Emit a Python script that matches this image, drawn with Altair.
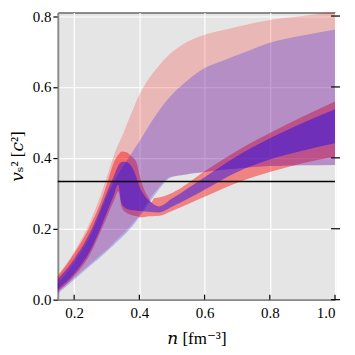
import altair as alt
import pandas as pd

# ---- wide red (pink) band ----
pink_n  = [0.15, 0.20, 0.25, 0.28, 0.30, 0.325, 0.35, 0.375, 0.40, 0.43, 0.46, 0.49, 0.52, 0.56, 0.60, 0.65, 0.70, 0.80, 0.90, 1.00]
pink_lo = [0.022, 0.061, 0.101, 0.125, 0.141, 0.163, 0.186, 0.210, 0.239, 0.282, 0.317, 0.344, 0.350, 0.356, 0.360, 0.366, 0.370, 0.377, 0.379, 0.380]
pink_hi = [0.068, 0.135, 0.222, 0.292, 0.345, 0.415, 0.468, 0.525, 0.578, 0.625, 0.660, 0.690, 0.712, 0.733, 0.747, 0.759, 0.770, 0.789, 0.800, 0.812]

# ---- narrow red band ----
red_n  = [0.15, 0.20, 0.25, 0.28, 0.30, 0.325, 0.335, 0.346, 0.36, 0.375, 0.392, 0.402, 0.417, 0.43, 0.437, 0.445, 0.463, 0.50, 0.60, 0.70, 0.80, 0.90, 1.00]
red_lo = [0.024, 0.066, 0.130, 0.190, 0.232, 0.286, 0.306, 0.260, 0.245, 0.239, 0.235, 0.232, 0.233, 0.235, 0.235, 0.236, 0.237, 0.250, 0.290, 0.330, 0.360, 0.385, 0.403]
red_hi = [0.066, 0.130, 0.210, 0.272, 0.325, 0.394, 0.408, 0.418, 0.416, 0.405, 0.385, 0.345, 0.306, 0.285, 0.275, 0.286, 0.289, 0.301, 0.362, 0.420, 0.470, 0.516, 0.559]

# ---- wide blue band ----
blue_n  = [0.15, 0.20, 0.25, 0.30, 0.335, 0.36, 0.381, 0.40, 0.432, 0.46, 0.483, 0.49, 0.52, 0.53, 0.56, 0.585, 0.641, 0.65, 0.70, 0.75, 0.80, 0.85, 0.90, 1.00]
blue_lo = [0.017, 0.056, 0.096, 0.136, 0.166, 0.188, 0.210, 0.233, 0.276, 0.311, 0.336, 0.342, 0.350, 0.351, 0.356, 0.358, 0.365, 0.366, 0.370, 0.374, 0.377, 0.378, 0.379, 0.380]
blue_hi = [0.045, 0.105, 0.180, 0.290, 0.355, 0.390, 0.420, 0.447, 0.495, 0.533, 0.561, 0.568, 0.597, 0.605, 0.628, 0.645, 0.669, 0.672, 0.690, 0.708, 0.725, 0.736, 0.745, 0.762]

# ---- narrow blue band ----
dark_n  = [0.15, 0.20, 0.25, 0.28, 0.30, 0.32, 0.335, 0.345, 0.355, 0.366, 0.375, 0.386, 0.394, 0.402, 0.417, 0.437, 0.46, 0.50, 0.60, 0.70, 0.80, 0.90, 1.00]
dark_lo = [0.030, 0.073, 0.140, 0.200, 0.246, 0.290, 0.324, 0.272, 0.260, 0.255, 0.253, 0.252, 0.251, 0.250, 0.249, 0.247, 0.246, 0.262, 0.310, 0.360, 0.395, 0.420, 0.441]
dark_hi = [0.058, 0.115, 0.192, 0.256, 0.302, 0.345, 0.378, 0.388, 0.389, 0.386, 0.377, 0.357, 0.336, 0.316, 0.292, 0.274, 0.263, 0.285, 0.345, 0.405, 0.455, 0.498, 0.537]

x_ticks = [0.2, 0.4, 0.6, 0.8, 1.0]
y_ticks = [0.0, 0.2, 0.4, 0.6, 0.8]
conformal = [1.0 / 3.0]

W, H = 278, 288
FONT = "Liberation Serif, DejaVu Serif, serif"

def band(n, lo, hi):
    return pd.DataFrame({"n": n, "lo": lo, "hi": hi})

X = alt.X("n:Q", scale=alt.Scale(domain=[0.15, 1.0], nice=False, zero=False),
          axis=alt.Axis(values=x_ticks, format=".1f", ticks=False, labelPadding=6,
                        labelFont=FONT, titleFont=FONT,
                        title="𝑛 [fm⁻³]", titlePadding=10))
Y = alt.Y("hi:Q", scale=alt.Scale(domain=[0, 0.81], nice=False),
          axis=alt.Axis(values=y_ticks, format=".1f", tickSize=5, tickColor="black",
                        labelFont=FONT, titleFont=FONT,
                        tickWidth=1.2, labelPadding=2, title="𝑣ₛ² [𝑐²]", titlePadding=6))

def area(df, color, op):
    return alt.Chart(df).mark_area(color=color, opacity=op, interpolate="monotone").encode(
        x=X, y=Y, y2="lo:Q")

layers = [
    area(band(pink_n, pink_lo, pink_hi), "#ff0000", 0.2),
    area(band(red_n, red_lo, red_hi), "#ff0000", 0.43),
    area(band(blue_n, blue_lo, blue_hi), "#0000ff", 0.22),
    area(band(dark_n, dark_lo, dark_hi), "#0000ff", 0.41),
]

hline = alt.Chart(pd.DataFrame({"hi": conformal})).mark_rule(color="black", strokeWidth=1.3).encode(y=Y)

bottom_ticks = alt.Chart(pd.DataFrame({"n": x_ticks})).mark_rule(color="black", strokeWidth=1.2).encode(
    x=X, y=alt.value(H - 5), y2=alt.value(H))

right_ticks = alt.Chart(pd.DataFrame({"hi": y_ticks})).mark_rule(color="black", strokeWidth=1.2).encode(
    y=Y, x=alt.value(W - 4), x2=alt.value(W + 5))

chart = alt.layer(*layers, hline, bottom_ticks, right_ticks).properties(
    width=W, height=H,
    autosize=alt.AutoSizeParams(type="none"),
    padding={"left": 50, "top": 4, "right": 12, "bottom": 55},
).configure_view(
    fill="#E5E5E5", stroke="#222222", strokeWidth=1
).configure_axis(
    grid=True, gridColor="white", gridWidth=1.2,
    domainColor="#8a8a8a", domainWidth=1.8,
    labelFont=FONT, labelFontSize=15, labelColor="black",
    titleFont=FONT, titleFontSize=17, titleColor="black", titleFontWeight="normal",
)

chart.save("out.html", embed_options={"renderer": "svg", "actions": False})
